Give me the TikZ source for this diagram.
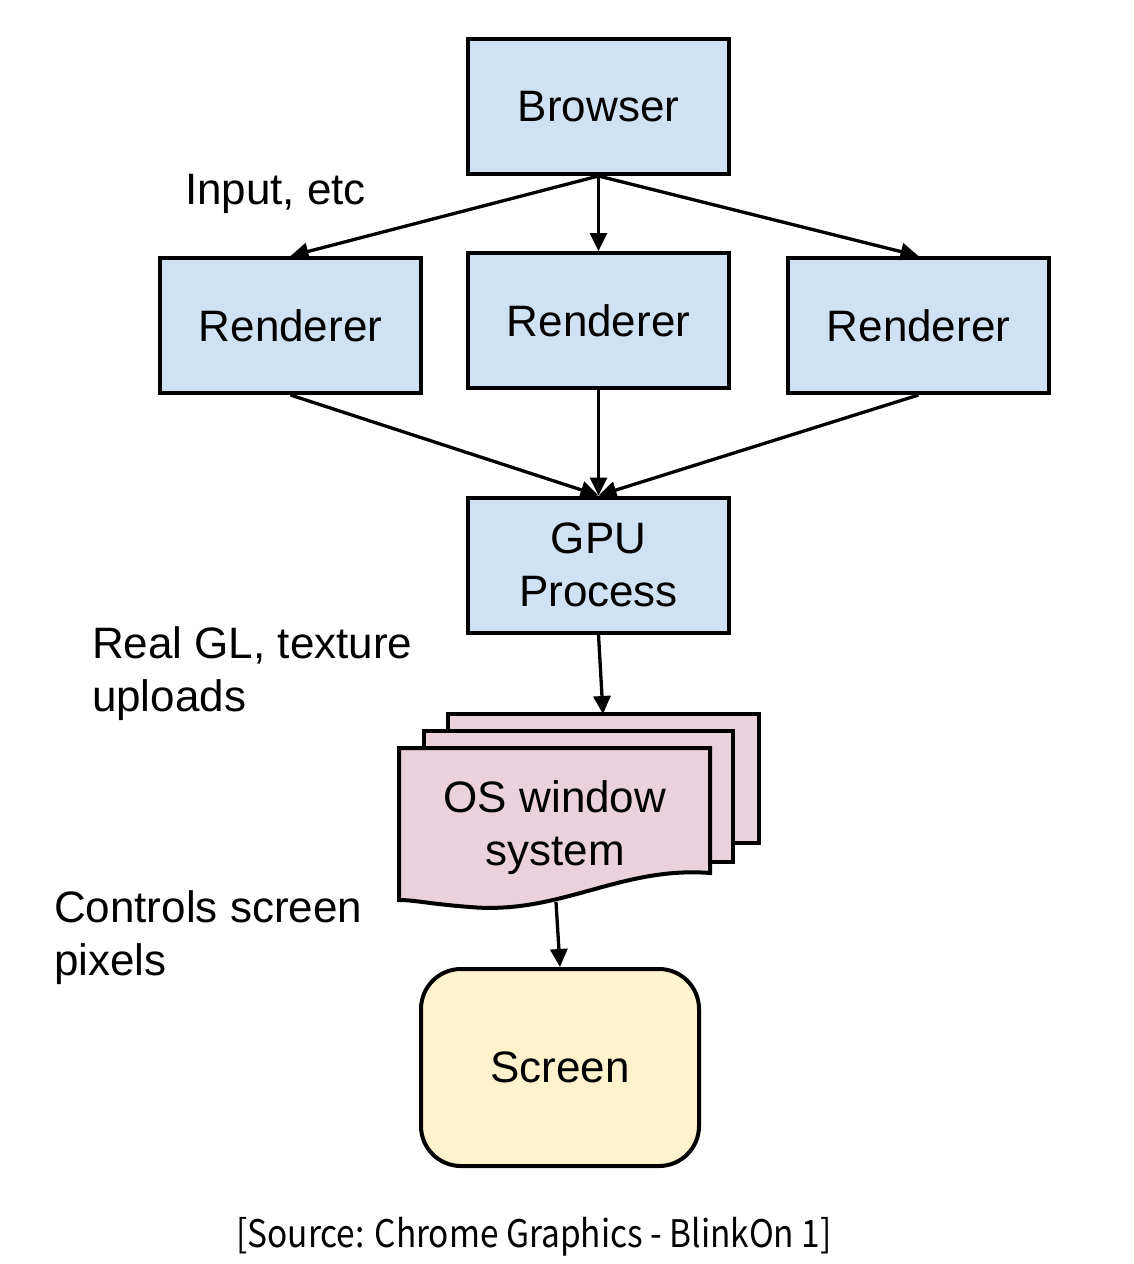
\documentclass[tikz,border=0pt]{standalone}
\usepackage{fontspec}
\setmainfont{Liberation Sans}
\newfontfamily\captionfont{Noto Sans CJK KR}
\usetikzlibrary{arrows.meta}
\definecolor{boxblue}{RGB}{207,226,243}
\definecolor{ospink}{RGB}{234,209,220}
\definecolor{screenyellow}{RGB}{255,242,204}

\begin{document}
\begin{tikzpicture}[x=1pt, y=-1pt, line width=4pt,
    every node/.style={font=\fontsize{44}{53}\selectfont},
    procbox/.style={draw, fill=boxblue, minimum width=261pt, minimum height=135pt, inner sep=0pt, align=center},
    lbl/.style={anchor=base west, align=left, inner sep=0pt},
    flow/.style={-{Triangle[length=18pt,width=17pt]}, line width=3.3pt}]
  \useasboundingbox (0,0) rectangle (1134,1264);

  \node[procbox] (browser) at (598.5,106.5) {Browser};
  \node[procbox] (rendL) at (290.5,325.5) {Renderer};
  \node[procbox] (rendM) at (598.5,320.5) {Renderer};
  \node[procbox] (rendR) at (918.5,325.5) {Renderer};
  \node[procbox] (gpu) at (598.5,565) {GPU\\Process};

  % stacked OS windows
  \filldraw[fill=ospink] (448,714) rectangle (759,843);
  \filldraw[fill=ospink] (424,731) rectangle (733,862);
  \filldraw[fill=ospink] (399,748) -- (710,748) -- (710,873) .. controls (620,866) and (560,915) .. (470,907) .. controls (430,904) and (415,900) .. (399,900) -- cycle;
  \coordinate (osTop) at (603,714);
  \coordinate (osBot) at (556,902);
  \node[anchor=base, align=center] (os) at (555,865) {OS window\\system};

  \node[draw, fill=screenyellow, rounded corners=40pt, minimum width=278pt, minimum height=197pt] (screen) at (560,1067.5) {Screen};

  \node[lbl] (lblInput) at (183,204) {Input, etc};
  \node[lbl] (lblGL) at (90,711) {Real GL, texture\\uploads};
  \node[lbl] (lblPix) at (52,975) {Controls screen\\pixels};

  \draw[flow] (browser.south) -- (rendL.north);
  \draw[flow] (browser.south) -- (rendM.north);
  \draw[flow] (browser.south) -- (rendR.north);
  \foreach \r in {rendL,rendM,rendR}
    \draw[flow] (\r.south) -- (gpu.north);
  \draw[flow] (gpu.south) -- (osTop);
  \draw[flow] (osBot) -- (screen.north);

  \node[font=\captionfont\fontsize{38}{40}\selectfont, anchor=base] (source) at (534,1247) {\scalebox{0.88}[1]{[Source: Chrome Graphics - BlinkOn 1]}};
\end{tikzpicture}
\end{document}
